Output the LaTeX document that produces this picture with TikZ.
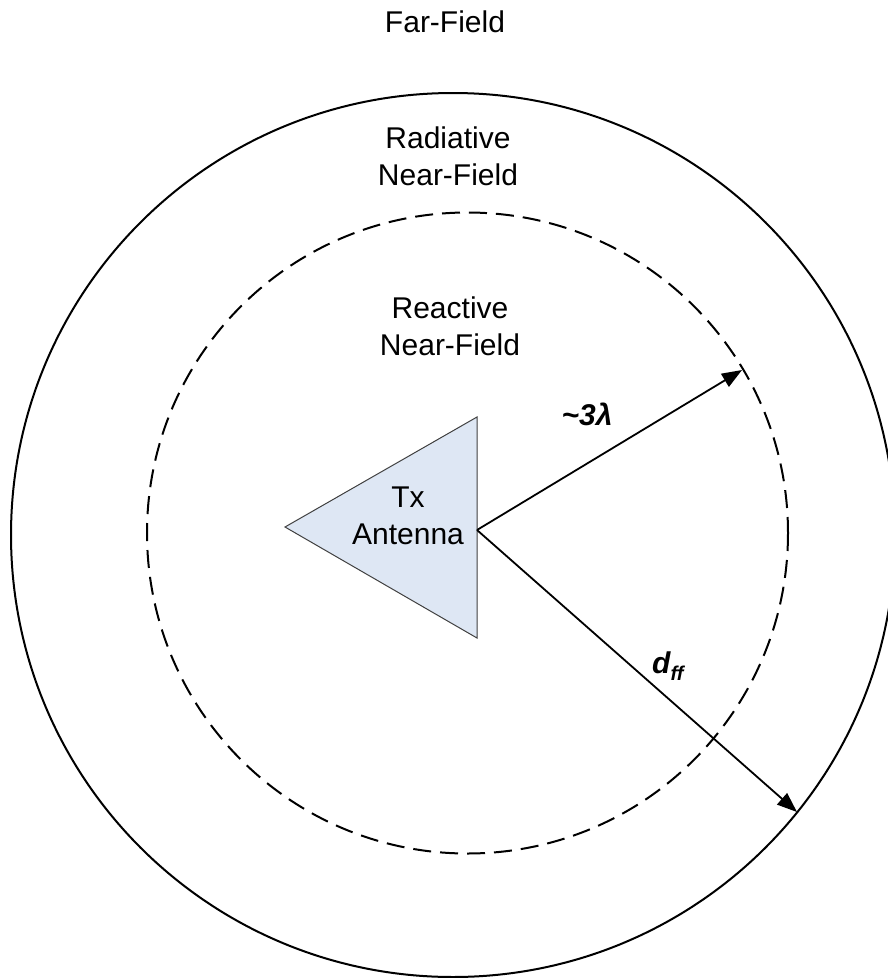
\documentclass[tikz,border=0pt]{standalone}
\usepackage{fontspec}
\setmainfont{Liberation Sans}
\usetikzlibrary{arrows.meta}
\definecolor{antfill}{RGB}{222,231,244}
\begin{document}
\begin{tikzpicture}[x=1bp,y=-1bp,
  lbl/.style={font=\fontsize{30bp}{37bp}\selectfont, align=center, inner sep=0pt},
  ring/.style={line width=2bp},
  dashring/.style={line width=2bp, dash pattern=on 18bp off 9bp},
  radarrow/.style={line width=1.8bp, -{Triangle[length=20bp,width=15bp]}},
  antshape/.style={fill=antfill, draw=black!75, line width=1bp, line join=miter},
]
\useasboundingbox (0,0) rectangle (888,978);
% regions
\coordinate (outerc) at (453,535);
\coordinate (innerc) at (467.5,533);
\draw[ring] (outerc) circle[radius=442];
\draw[dashring] (innerc) circle[radius=320.5];
% antenna
\coordinate (apex) at (285,527);
\coordinate (top) at (477,417);
\coordinate (bot) at (477,638);
\coordinate (feed) at (477,530);
\draw[antshape] (apex) -- (top) -- (bot) -- cycle;
\node[lbl] (ant) at (408,516) {Tx\\Antenna};
% radius arrows
\coordinate (tipnear) at (742,370);
\coordinate (tipfar) at (797,812);
\draw[radarrow] (feed) -- (tipnear);
\draw[radarrow] (feed) -- (tipfar);
% labels
\node[lbl, anchor=base] (far) at (445,32) {Far-Field};
\node[lbl] (rad) at (448,156) {Radiative\\Near-Field};
\node[lbl] (rea) at (450,326) {Reactive\\Near-Field};
\node[lbl, anchor=base, font=\fontsize{30bp}{37bp}\selectfont\bfseries\itshape] (lam) at (587,425) {\char"007E 3\char"03BB};
\node[lbl, anchor=base west, font=\fontsize{30bp}{37bp}\selectfont\bfseries\itshape] (dff) at (652,673) {d\raisebox{-7bp}{\fontsize{20bp}{20bp}\selectfont ff}};
\end{tikzpicture}
\end{document}
